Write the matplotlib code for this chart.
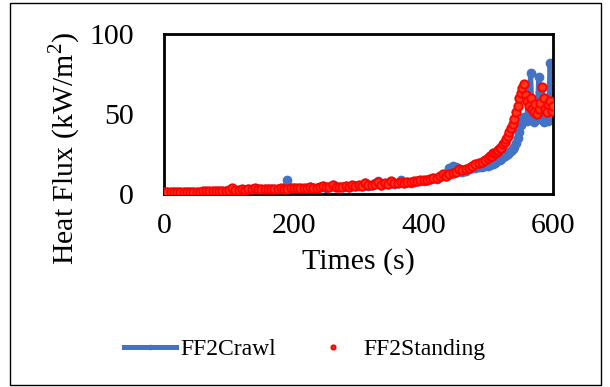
import matplotlib
matplotlib.use("Agg")
import matplotlib.pyplot as plt
from matplotlib.patches import Rectangle

plt.rcParams["font.family"] = ["Liberation Serif", "DejaVu Serif"]
plt.rcParams["mathtext.fontset"] = "custom"
plt.rcParams["mathtext.rm"] = "Liberation Serif"

# --- Heat flux records (kW/m2) ----------------------------------------------
# 5 s sampling up to 495 s, 2.5 s sampling over the flashover stage
t_early = list(range(0, 500, 5))
t_late = [500 + 2.5 * i for i in range(41)]
times = t_early + t_late

crawl_early = [
    0.8, 0.9, 0.9, 1.0, 1.0, 1.0, 1.1, 1.1, 1.1, 1.2, 1.2, 1.3, 1.3, 1.4, 1.4, 1.5, 1.6, 1.7, 1.8, 1.9,
    2.0, 2.5, 2.4, 2.3, 2.6, 2.5, 2.8, 2.7, 3.0, 2.8, 2.8, 3.0, 2.9, 3.1, 2.9, 2.8, 3.2, 3.5, 8.5, 3.4,
    3.4, 3.2, 3.6, 3.3, 3.2, 4.2, 3.6, 3.4, 4.0, 4.8, 3.8, 4.0, 5.5, 4.0, 4.2, 4.1, 4.8, 4.4, 5.2, 4.8,
    5.0, 4.8, 6.5, 5.2, 5.4, 6.8, 8.0, 5.6, 6.2, 6.0, 7.5, 6.4, 6.8, 9.0, 6.6, 7.2, 7.0, 7.5, 7.8, 8.3,
    8.2, 8.6, 9.2, 9.8, 9.6, 10.5, 12.0, 11.0, 16.5, 17.5, 17.0, 15.0, 14.0, 14.5, 15.5, 16.0, 16.5, 17.0, 17.0, 17.2,
]
crawl_late = [
    17.5, 18.0, 18.5, 19.0, 19.5, 20.5, 21.0, 21.5, 22.0, 23.0, 23.5, 24.5, 25.0, 26.0, 27.0, 28.0,
    29.5, 32.0, 35.0, 39.0, 43.0, 46.0, 48.0, 46.0, 45.5, 52.0, 75.5, 50.0, 45.0, 46.0, 47.0, 73.0,
    64.0, 46.0, 45.0, 52.0, 47.0, 45.5, 82.0, 58.0, 51.0,
]

standing_early = [
    1.0, 1.1, 1.0, 1.1, 1.2, 1.1, 1.2, 1.3, 1.2, 1.3, 1.4, 1.4, 1.5, 1.5, 1.6, 1.7, 1.8, 1.9, 2.0, 2.1,
    2.3, 3.8, 2.6, 2.5, 2.8, 2.7, 3.0, 2.9, 3.4, 3.0, 2.9, 3.2, 3.1, 3.3, 3.0, 2.9, 3.6, 3.2, 3.3, 3.5,
    3.6, 3.4, 3.8, 3.5, 3.4, 4.5, 3.8, 3.6, 4.2, 5.2, 4.0, 4.1, 5.8, 4.3, 4.5, 4.4, 5.0, 4.6, 5.5, 5.0,
    5.3, 5.0, 6.8, 5.4, 5.6, 6.0, 7.2, 5.8, 6.5, 6.2, 7.8, 6.6, 7.0, 7.2, 6.8, 7.5, 7.3, 7.8, 8.0, 8.6,
    8.5, 9.0, 9.6, 10.2, 10.0, 11.0, 12.5, 11.5, 12.2, 13.0, 13.5, 15.8, 14.8, 15.5, 16.5, 17.5, 18.5, 19.5, 20.0, 21.5,
]
standing_late = [
    22.5, 23.5, 24.0, 25.5, 25.5, 26.5, 27.5, 28.5, 29.0, 31.0, 32.5, 34.5, 36.0, 39.0, 41.5, 44.0,
    47.0, 51.0, 55.0, 60.0, 63.0, 66.5, 68.5, 62.0, 58.0, 55.0, 60.0, 53.0, 51.0, 56.0, 50.0, 53.0,
    57.0, 67.0, 60.0, 53.0, 51.0, 56.0, 58.0, 52.0, 55.0,
]

crawl = crawl_early + crawl_late
standing = standing_early + standing_late

C_BLUE = "#4472C4"
C_RED = "#FF0000"

fig = plt.figure(figsize=(6.10, 3.87), dpi=100)
fig.patch.set_facecolor("white")
ax = fig.add_axes([0.269, 0.499, 0.638, 0.413])

ax.plot(times, crawl, "-o", color=C_BLUE, lw=3.6, ms=6.0, label="FF2Crawl", zorder=2)
ax.plot(times, standing, "o", ls="none", mfc="#FF3A1A", mec=C_RED, mew=1.4, ms=6.0,
        label="FF2Standing", zorder=3)

ax.set_xlim(0, 600)
ax.set_ylim(0, 100)
ax.set_xticks([0, 200, 400, 600])
ax.set_yticks([0, 50, 100])
ax.tick_params(length=0, labelsize=21.5)
ax.tick_params(axis="x", pad=14)
ax.tick_params(axis="y", pad=22)
for s in ax.spines.values():
    s.set_linewidth(2.0)
    s.set_color("black")

ax.set_xlabel("Times (s)", fontsize=21.5, labelpad=6)
fig.text(65 / 610, 1 - 148 / 387, "Heat Flux (kW/m$^2$)", rotation=90,
         ha="center", va="center", fontsize=21.5)

leg = fig.legend(loc="center", bbox_to_anchor=(0.5, 0.098), ncol=2, frameon=False,
                 fontsize=17, handlelength=2.2, handletextpad=0.2, columnspacing=1.3,
                 markerscale=0.5)

# thin frame round the whole chart
fig.patches.append(Rectangle((0.0164, 0.005), 0.969, 0.987, transform=fig.transFigure,
                             fill=False, ec="black", lw=1.0))

fig.savefig("out.png", dpi=100)
